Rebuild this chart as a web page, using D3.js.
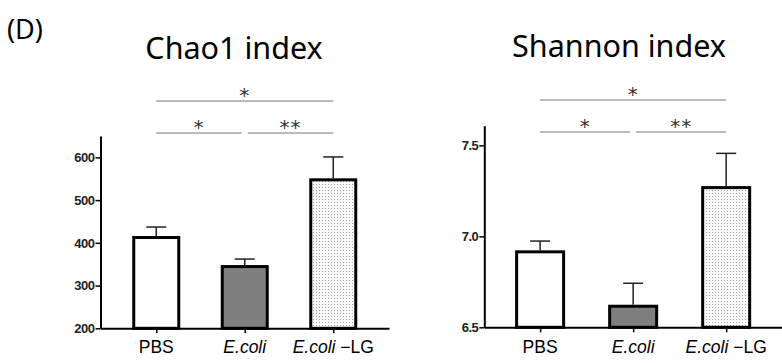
<!DOCTYPE html>
<html>
<head>
<meta charset="utf-8">
<script src="https://cdn.jsdelivr.net/npm/d3@7"></script>
<style>
  body { margin: 0; background: #fff; }
  svg { display: block; }
</style>
</head>
<body>
<svg id="chart" width="782" height="363"></svg>
<script>
// data
var groups = ['PBS', 'E.coli', 'E.coli-LG'];
var chaoMean = [416, 348, 551];
var chaoErr = [21, 14, 50];
var chaoTicks = [200, 300, 400, 500, 600];
var shannonMean = [6.923, 6.624, 7.276];
var shannonErr = [0.051, 0.118, 0.180];
var shannonTicks = [6.5, 7.0, 7.5];
var sigPairs = [['PBS', 'E.coli', '*'], ['E.coli', 'E.coli-LG', '**'], ['PBS', 'E.coli-LG', '*']];
var fills = ['#ffffff', '#7f7f7f', 'url(#dots)'];

var svg = d3.select('#chart');

// dotted fill for the last bar
var pat = svg.append('defs').append('pattern')
	.attr('id', 'dots')
	.attr('width', 3).attr('height', 3)
	.attr('patternUnits', 'userSpaceOnUse');
pat.append('rect').attr('width', 3).attr('height', 3).attr('fill', '#fbfbfb');
pat.append('rect').attr('x', 1).attr('y', 1).attr('width', 1).attr('height', 1).attr('fill', '#a0a0a0');

svg.append('text')
	.attr('x', 7).attr('y', 39)
	.style('font-family', '"Noto Sans", sans-serif')
	.style('font-size', '27px')
	.text('(D)');

function panel(opt) {
	var g = svg.append('g');

	var x = d3.scalePoint().domain(groups).range([opt.x0, opt.x1]).padding(opt.pad);
	var y = d3.scaleLinear().domain(opt.domain).range([opt.y1, opt.y0]);

	g.append('text')
		.attr('x', opt.titleX).attr('y', opt.titleY)
		.attr('text-anchor', 'middle')
		.style('font-family', '"Noto Sans", sans-serif')
		.style('font-size', '30.5px')
		.text(opt.title);

	// bars
	var bars = g.selectAll('g.bar').data(groups).enter().append('g').attr('class', 'bar');

	bars.append('line')
		.attr('x1', function(d) { return x(d); })
		.attr('x2', function(d) { return x(d); })
		.attr('y1', function(d, i) { return y(opt.mean[i]); })
		.attr('y2', function(d, i) { return y(opt.mean[i] + opt.err[i]); })
		.attr('stroke', '#222').attr('stroke-width', 1.5);
	bars.append('line')
		.attr('x1', function(d) { return x(d) - 10; })
		.attr('x2', function(d) { return x(d) + 10; })
		.attr('y1', function(d, i) { return y(opt.mean[i] + opt.err[i]); })
		.attr('y2', function(d, i) { return y(opt.mean[i] + opt.err[i]); })
		.attr('stroke', '#222').attr('stroke-width', 1.5);

	bars.append('rect')
		.attr('x', function(d) { return x(d) - opt.bw / 2 + 1.5; })
		.attr('width', opt.bw - 3)
		.attr('y', function(d, i) { return y(opt.mean[i]) + 1.5; })
		.attr('height', function(d, i) { return y(opt.domain[0]) - y(opt.mean[i]) - 1.5; })
		.attr('fill', function(d, i) { return fills[i]; })
		.attr('stroke', '#000').attr('stroke-width', 3);

	// axes
	var yAxis = d3.axisLeft(y).tickValues(opt.ticks).tickFormat(opt.fmt).tickSize(5).tickSizeOuter(0);
	var ya = g.append('g').attr('transform', 'translate(' + opt.x0 + ',0)').call(yAxis);
	ya.select('.domain').attr('stroke-width', 2);
	ya.selectAll('.tick line').attr('stroke-width', 1.5);
	ya.selectAll('.tick text')
		.attr('x', -6)
		.style('font-family', '"Liberation Sans", Arial, sans-serif')
		.style('font-size', '13px')
		.style('font-weight', 'bold')
		.style('letter-spacing', '-0.5px')
		.attr('fill', '#222');

	var xAxis = d3.axisBottom(x).tickSize(5).tickSizeOuter(0).tickFormat('');
	var xa = g.append('g').attr('transform', 'translate(0,' + opt.y1 + ')').call(xAxis);
	xa.select('.domain').attr('stroke-width', 2);
	xa.selectAll('.tick line').attr('stroke-width', 1.5);

	// category labels, E.coli in italics
	var lab = g.selectAll('text.cat').data(groups).enter().append('text')
		.attr('class', 'cat')
		.attr('x', function(d) { return x(d); })
		.attr('y', 353)
		.attr('text-anchor', 'middle')
		.style('font-family', '"Liberation Sans", Arial, sans-serif')
		.style('font-size', '17.5px');
	lab.each(function(d) {
		var t = d3.select(this);
		if (d === 'PBS') { t.text(d); return; }
		t.append('tspan').style('font-style', 'italic').text('E.coli');
		if (d === 'E.coli-LG') t.append('tspan').text(' \u2212LG');
	});

	// significance brackets
	var rowY = [opt.sigY[1], opt.sigY[1], opt.sigY[0]];
	sigPairs.forEach(function(p, i) {
		var a = x(p[0]), b = x(p[1]);
		if (i === 0) b -= 3;
		if (i === 1) a += 3;
		g.append('line')
			.attr('x1', a).attr('x2', b)
			.attr('y1', rowY[i]).attr('y2', rowY[i])
			.attr('stroke', '#777').attr('stroke-width', 1);
		g.append('text')
			.attr('x', (a + b) / 2).attr('y', rowY[i] + 1)
			.attr('text-anchor', 'middle')
			.style('font-family', '"DejaVu Sans", sans-serif')
			.style('font-size', '20px')
			.style('letter-spacing', '1px')
			.attr('fill', '#333')
			.text(p[2]);
	});
}

panel({
	title: 'Chao1 index', titleX: 234, titleY: 59,
	x0: 100.5, x1: 389, pad: 0.63, y0: 136, y1: 328.3, bw: 48,
	domain: [200, 650], ticks: chaoTicks, fmt: d3.format('d'),
	mean: chaoMean, err: chaoErr, sigY: [101, 133]
});

panel({
	title: 'Shannon index', titleX: 619, titleY: 57,
	x0: 484.3, x1: 782, pad: 0.6, y0: 125.7, y1: 327.3, bw: 50,
	domain: [6.5, 7.608], ticks: shannonTicks, fmt: d3.format('.1f'),
	mean: shannonMean, err: shannonErr, sigY: [100, 132]
});
</script>
</body>
</html>
